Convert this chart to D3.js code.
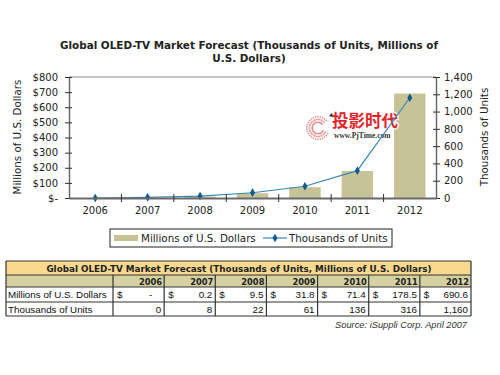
<!DOCTYPE html>
<html>
<head>
<meta charset="utf-8">
<title>Global OLED-TV Market Forecast</title>
<script src="https://cdn.jsdelivr.net/npm/d3@7/dist/d3.min.js"></script>
<style>
  body { margin: 0; background: #fff; }
  svg { display: block; }
</style>
</head>
<body>
<script>
// data
const years = ["2006", "2007", "2008", "2009", "2010", "2011", "2012"];
const dollars = [0, 0.2, 9.5, 31.8, 71.4, 178.5, 690.6]; // Millions of U.S. Dollars
const units = [0, 8, 22, 61, 136, 316, 1160];           // Thousands of Units
const leftTicks = [0, 100, 200, 300, 400, 500, 600, 700, 800];
const rightTicks = [0, 200, 400, 600, 800, 1000, 1200, 1400];

const W = 500, H = 375;
const plot = { left: 69, right: 436, top: 77, bottom: 198 };

const barColor = "#c6c397";
const lineColor = "#3a87b4";
const dotColor = "#0d5c8c";
const axisColor = "#6b6b6b";
const verdana = "Verdana, 'DejaVu Sans', sans-serif";
const arial = "Arial, 'Liberation Sans', sans-serif";

const svg = d3.select("body").append("svg")
  .attr("width", W).attr("height", H);

// scales
const x = d3.scaleBand().domain(years)
  .range([plot.left, plot.right])
  .paddingInner(0.4).paddingOuter(0.2);
const yL = d3.scaleLinear().domain([0, 800]).range([plot.bottom, plot.top]);
const yR = d3.scaleLinear().domain([0, 1400]).range([plot.bottom, plot.top]);

// title
svg.append("text")
  .attr("x", 249).attr("y", 49)
  .attr("text-anchor", "middle")
  .attr("font-family", verdana).attr("font-weight", "bold")
  .attr("font-size", 10.4).attr("fill", "#222")
  .selectAll("tspan")
  .data(["Global OLED-TV Market Forecast (Thousands of Units, Millions of", "U.S. Dollars)"])
  .join("tspan")
  .attr("x", 249)
  .attr("dy", (d, i) => i ? 13 : 0)
  .text(d => d);

// top border of plot
svg.append("line")
  .attr("x1", plot.left).attr("x2", plot.right)
  .attr("y1", plot.top).attr("y2", plot.top)
  .attr("stroke", "#888").attr("stroke-width", 1);

// bars
svg.selectAll("rect.bar")
  .data(dollars)
  .join("rect")
  .attr("class", "bar")
  .attr("x", (d, i) => x(years[i]))
  .attr("y", d => yL(d))
  .attr("width", x.bandwidth())
  .attr("height", d => plot.bottom - yL(d))
  .attr("fill", barColor);

// watermark
const wm = svg.append("g").attr("transform", "translate(318,128)");
const rays = d3.range(0, 300, 12);
wm.selectAll("line")
  .data(rays)
  .join("line")
  .attr("transform", d => "rotate(" + (d + 30) + ")")
  .attr("x1", 5).attr("x2", 12)
  .attr("stroke", "#e8666a").attr("stroke-width", 1.3)
  .attr("stroke-dasharray", "1.5,1.2")
  .attr("opacity", 0.8);
svg.append("text")
  .attr("x", 332).attr("y", 127)
  .attr("font-family", "'Noto Sans CJK SC', sans-serif")
  .attr("font-weight", "bold").attr("font-size", 16.5)
  .attr("fill", "#e0262b")
  .attr("stroke", "#fff").attr("stroke-width", 2.5).attr("paint-order", "stroke")
  .text("投影时代");
svg.append("text")
  .attr("x", 334).attr("y", 138)
  .attr("font-family", "'Liberation Serif', serif")
  .attr("font-weight", "bold").attr("font-size", 7.5)
  .attr("fill", "#333")
  .attr("stroke", "#fff").attr("stroke-width", 2).attr("paint-order", "stroke")
  .text("www.PjTime.com");
svg.append("path")
  .attr("d", "M329,116 l3,-3 l1,4 z")
  .attr("fill", "#222");

// line series
const line = d3.line()
  .x((d, i) => x(years[i]) + x.bandwidth() / 2)
  .y(d => yR(d));
svg.append("path")
  .datum(units)
  .attr("d", line)
  .attr("fill", "none")
  .attr("stroke", lineColor)
  .attr("stroke-width", 1.2);
svg.selectAll("path.dot")
  .data(units)
  .join("path")
  .attr("class", "dot")
  .attr("d", d3.symbol(d3.symbolDiamond, 22))
  .attr("transform", (d, i) => "translate(" + (x(years[i]) + x.bandwidth() / 2) + "," + yR(d) + ")")
  .attr("fill", dotColor);

// axes
function styleAxis(g) {
  g.select(".domain").attr("stroke", axisColor).attr("stroke-width", 1.5);
  g.selectAll(".tick line").attr("stroke", "#333");
  g.selectAll(".tick text")
    .attr("font-family", verdana).attr("font-size", 10).attr("fill", "#222");
}

const leftAxis = d3.axisLeft(yL)
  .tickValues(leftTicks)
  .tickSize(4).tickSizeOuter(0)
  .tickFormat(d => d === 0 ? "$-" : "$" + d);
svg.append("g")
  .attr("transform", "translate(" + plot.left + ",0)")
  .call(leftAxis)
  .call(styleAxis)
  .call(g => g.selectAll(".tick line").attr("x1", 3))
  .call(g => g.selectAll(".tick text").attr("x", -11));

const rightAxis = d3.axisRight(yR)
  .tickValues(rightTicks)
  .tickSize(4).tickSizeOuter(0)
  .tickFormat(d3.format(","));
svg.append("g")
  .attr("transform", "translate(" + plot.right + ",0)")
  .call(rightAxis)
  .call(styleAxis)
  .call(g => g.selectAll(".tick line").attr("x1", -3))
  .call(g => g.selectAll(".tick text").attr("x", 8));

// x axis: labels at band centres, ticks at band boundaries
const xAxis = d3.axisBottom(x).tickSize(0).tickSizeOuter(0);
const gx = svg.append("g")
  .attr("transform", "translate(0," + plot.bottom + ")")
  .call(xAxis)
  .call(styleAxis)
  .call(g => g.selectAll(".tick text").attr("y", 9));
gx.select(".domain").attr("stroke-width", 2);
gx.selectAll("line.sep")
  .data(years.slice(1))
  .join("line")
  .attr("class", "sep")
  .attr("x1", d => x(d) - x.step() * x.paddingInner() / 2)
  .attr("x2", d => x(d) - x.step() * x.paddingInner() / 2)
  .attr("y1", -4).attr("y2", 4)
  .attr("stroke", "#333");

// axis titles
svg.append("text")
  .attr("transform", "translate(21,137) rotate(-90)")
  .attr("text-anchor", "middle")
  .attr("font-family", verdana).attr("font-size", 10.3).attr("fill", "#222")
  .text("Millions of U.S. Dollars");
svg.append("text")
  .attr("transform", "translate(488,137) rotate(-90)")
  .attr("text-anchor", "middle")
  .attr("font-family", verdana).attr("font-size", 10.3).attr("fill", "#222")
  .text("Thousands of Units");

// legend
const lg = svg.append("g").attr("transform", "translate(110,229)");
lg.append("rect")
  .attr("width", 282).attr("height", 18)
  .attr("fill", "#fff").attr("stroke", "#222").attr("stroke-width", 1);
lg.append("rect")
  .attr("x", 4).attr("y", 6).attr("width", 24).attr("height", 6)
  .attr("fill", barColor);
lg.append("text")
  .attr("x", 31).attr("y", 13)
  .attr("font-family", verdana).attr("font-size", 10.3).attr("fill", "#222")
  .text("Millions of U.S. Dollars");
lg.append("line")
  .attr("x1", 153).attr("x2", 177).attr("y1", 9).attr("y2", 9)
  .attr("stroke", lineColor).attr("stroke-width", 1.2);
lg.append("path")
  .attr("d", d3.symbol(d3.symbolDiamond, 22))
  .attr("transform", "translate(165,9)")
  .attr("fill", dotColor);
lg.append("text")
  .attr("x", 179).attr("y", 13)
  .attr("font-family", verdana).attr("font-size", 10.3).attr("fill", "#222")
  .text("Thousands of Units");

// data table
const tb = { left: 6, right: 471, labelW: 107, top: 261 };
const rowH = [14, 12, 15, 14];
const rowY = [tb.top];
rowH.forEach(h => rowY.push(rowY[rowY.length - 1] + h));
const col = d3.scaleBand().domain(years)
  .range([tb.left + tb.labelW, tb.right]);

const tg = svg.append("g");
// backgrounds
tg.append("rect")
  .attr("x", tb.left).attr("y", rowY[0])
  .attr("width", tb.right - tb.left).attr("height", rowH[0])
  .attr("fill", "#f8d98e");
tg.append("rect")
  .attr("x", tb.left).attr("y", rowY[1])
  .attr("width", tb.right - tb.left).attr("height", rowH[1])
  .attr("fill", "#d5d1a0");

// horizontal rules
tg.selectAll("line.h")
  .data(rowY)
  .join("line")
  .attr("class", "h")
  .attr("x1", tb.left).attr("x2", tb.right)
  .attr("y1", d => d).attr("y2", d => d)
  .attr("stroke", "#333").attr("stroke-width", 1.2);
// vertical rules
const vx = [tb.left, tb.left + tb.labelW].concat(years.slice(1).map(d => col(d)), [tb.right]);
tg.selectAll("line.v")
  .data(vx)
  .join("line")
  .attr("class", "v")
  .attr("x1", d => d).attr("x2", d => d)
  .attr("y1", (d, i) => (i === 0 || i === vx.length - 1) ? rowY[0] : rowY[1])
  .attr("y2", rowY[4])
  .attr("stroke", "#333").attr("stroke-width", 1.2);

tg.append("text")
  .attr("x", (tb.left + tb.right) / 2 + 0.5).attr("y", rowY[0] + 10.5)
  .attr("text-anchor", "middle")
  .attr("font-family", verdana).attr("font-weight", "bold")
  .attr("font-size", 8.8).attr("fill", "#222")
  .text("Global OLED-TV Market Forecast (Thousands of Units, Millions of U.S. Dollars)");

tg.selectAll("text.yr")
  .data(years)
  .join("text")
  .attr("class", "yr")
  .attr("x", d => col(d) + col.bandwidth() - 2)
  .attr("y", rowY[1] + 9.5)
  .attr("text-anchor", "end")
  .attr("font-family", verdana).attr("font-weight", "bold")
  .attr("font-size", 8.3).attr("fill", "#222")
  .text(d => d);

const cellFont = { family: arial, size: 9.8 };
tg.append("text")
  .attr("x", tb.left + 2).attr("y", rowY[2] + 11)
  .attr("font-family", cellFont.family).attr("font-size", cellFont.size).attr("fill", "#111")
  .text("Millions of U.S. Dollars");
tg.append("text")
  .attr("x", tb.left + 2).attr("y", rowY[3] + 11)
  .attr("font-family", cellFont.family).attr("font-size", cellFont.size).attr("fill", "#111")
  .text("Thousands of Units");

tg.selectAll("text.dl")
  .data(dollars)
  .join("text")
  .attr("class", "dl")
  .attr("x", (d, i) => col(years[i]) + 4)
  .attr("y", rowY[2] + 11)
  .attr("font-family", cellFont.family).attr("font-size", cellFont.size).attr("fill", "#111")
  .text("$");
tg.selectAll("text.dv")
  .data(dollars)
  .join("text")
  .attr("class", "dv")
  .attr("x", (d, i) => col(years[i]) + col.bandwidth() - (d === 0 ? 12 : 3))
  .attr("y", rowY[2] + 11)
  .attr("text-anchor", "end")
  .attr("font-family", cellFont.family).attr("font-size", cellFont.size).attr("fill", "#111")
  .text(d => d === 0 ? "-" : d3.format(",.1f")(d));
tg.selectAll("text.uv")
  .data(units)
  .join("text")
  .attr("class", "uv")
  .attr("x", (d, i) => col(years[i]) + col.bandwidth() - 3)
  .attr("y", rowY[3] + 11)
  .attr("text-anchor", "end")
  .attr("font-family", cellFont.family).attr("font-size", cellFont.size).attr("fill", "#111")
  .text(d => d3.format(",")(d));

svg.append("text")
  .attr("x", 467).attr("y", 328)
  .attr("text-anchor", "end")
  .attr("font-family", arial).attr("font-style", "italic")
  .attr("font-size", 9.3).attr("fill", "#333")
  .text("Source: iSuppli Corp. April 2007");
</script>
</body>
</html>
